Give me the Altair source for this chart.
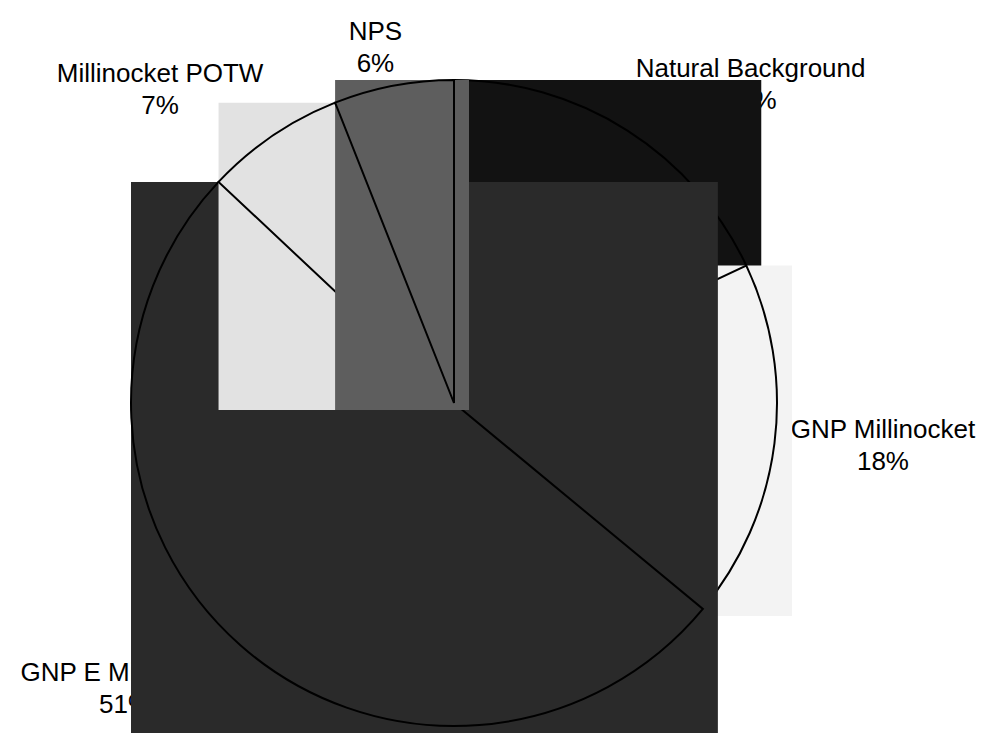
import math
import altair as alt
import pandas as pd

# ---- data (clockwise from 12 o'clock) ----
categories = ["Natural Background", "GNP Millinocket", "GNP E Millinocket", "Millinocket POTW", "NPS"]
percents = [18, 18, 51, 7, 6]
fills = ["#121212", "#f3f3f3", "#2a2a2a", "#e2e2e2", "#5e5e5e"]

# ---- layout ----
W, H = 972, 717
CX, CY = 446, 395       # pie centre inside the plot area (px)
R = 323                 # pie radius (px)
PAD_R, PAD_B = 15, 7    # pattern boxes overshoot the slice bounds (px)
FONT = 26
LH = 32
LABEL_K = 1.05

xmin, xmax = -CX / R, (W - CX) / R
ymin, ymax = -(H - CY) / R, CY / R

ARIAL = {" ": 278, "%": 889, "0": 556, "1": 556, "2": 556, "3": 556, "4": 556, "5": 556,
         "6": 556, "7": 556, "8": 556, "9": 556, "A": 667, "B": 667, "E": 667, "G": 778,
         "M": 833, "N": 722, "O": 778, "P": 667, "S": 667, "T": 611, "W": 944, "a": 556,
         "c": 500, "d": 556, "e": 556, "g": 556, "i": 222, "k": 500, "l": 222, "n": 556,
         "o": 556, "r": 333, "t": 278, "u": 556}


def text_w(s):
    return sum(ARIAL.get(ch, 556) for ch in s) * FONT / 1000


rows = []
total = sum(percents)
acc = 0
for i, (cat, p) in enumerate(zip(categories, percents)):
    a0 = acc / total * 2 * math.pi
    a1 = (acc + p) / total * 2 * math.pi
    acc += p
    angs = [a0, a1] + [k * math.pi / 2 for k in range(5) if a0 < k * math.pi / 2 < a1]
    xs = [0.0] + [math.sin(a) for a in angs]
    ys = [0.0] + [math.cos(a) for a in angs]
    mid = (a0 + a1) / 2
    s, c = math.sin(mid), math.cos(mid)
    pct = f"{p}%"
    w = max(text_w(cat), text_w(pct))
    h = 2 * LH
    hx = max(-1.0, min(1.0, 3 * s))
    px = CX + R * LABEL_K * s + w / 2 * hx
    vy = 1 if c > 0.2 else (-1 if c < -0.2 else 0)
    vy *= min(1.0, 2.5 * abs(s) + 0.2)
    py = CY - R * LABEL_K * c - h / 2 * vy - LH / 2   # centre of first line
    rows.append(dict(order=i, category=cat, label=f"{cat}\n{pct}", fill=fills[i],
                     x0=min(xs), x1=max(xs) + PAD_R / R,
                     y0=min(ys) - PAD_B / R, y1=max(ys),
                     t0=a0, t1=a1, cx=0.0, cy=0.0,
                     lx=(px - CX) / R, ly=(CY - py) / R))

df = pd.DataFrame(rows)

xs_ = alt.Scale(domain=[xmin, xmax], nice=False, zero=False)
ys_ = alt.Scale(domain=[ymin, ymax], nice=False, zero=False)

base = alt.Chart(df)

labels = base.mark_text(font="Liberation Sans", fontSize=FONT, lineHeight=LH,
                        lineBreak="\n", align="center", baseline="middle",
                        color="black").encode(
    x=alt.X("lx:Q", scale=xs_, axis=None),
    y=alt.Y("ly:Q", scale=ys_, axis=None),
    text="label:N",
)
layers = [labels]

for i in range(len(categories)):
    sub = base.transform_filter(alt.datum.order == i)
    rect = sub.mark_rect(strokeWidth=0).encode(
        x=alt.X("x0:Q", scale=xs_, axis=None),
        x2="x1:Q",
        y=alt.Y("y0:Q", scale=ys_, axis=None),
        y2="y1:Q",
        color=alt.Color("fill:N", scale=None),
    )
    arc = sub.mark_arc(radius=R, fillOpacity=0, stroke="black", strokeWidth=2).encode(
        x=alt.X("cx:Q", scale=xs_, axis=None),
        y=alt.Y("cy:Q", scale=ys_, axis=None),
        theta=alt.Theta("t0:Q", scale=None, stack=None),
        theta2="t1:Q",
    )
    layers += [rect, arc]

chart = alt.layer(*layers).properties(width=W, height=H, padding=0).configure_view(stroke=None)

chart.save("out.html", embed_options={"renderer": "svg", "actions": False})
